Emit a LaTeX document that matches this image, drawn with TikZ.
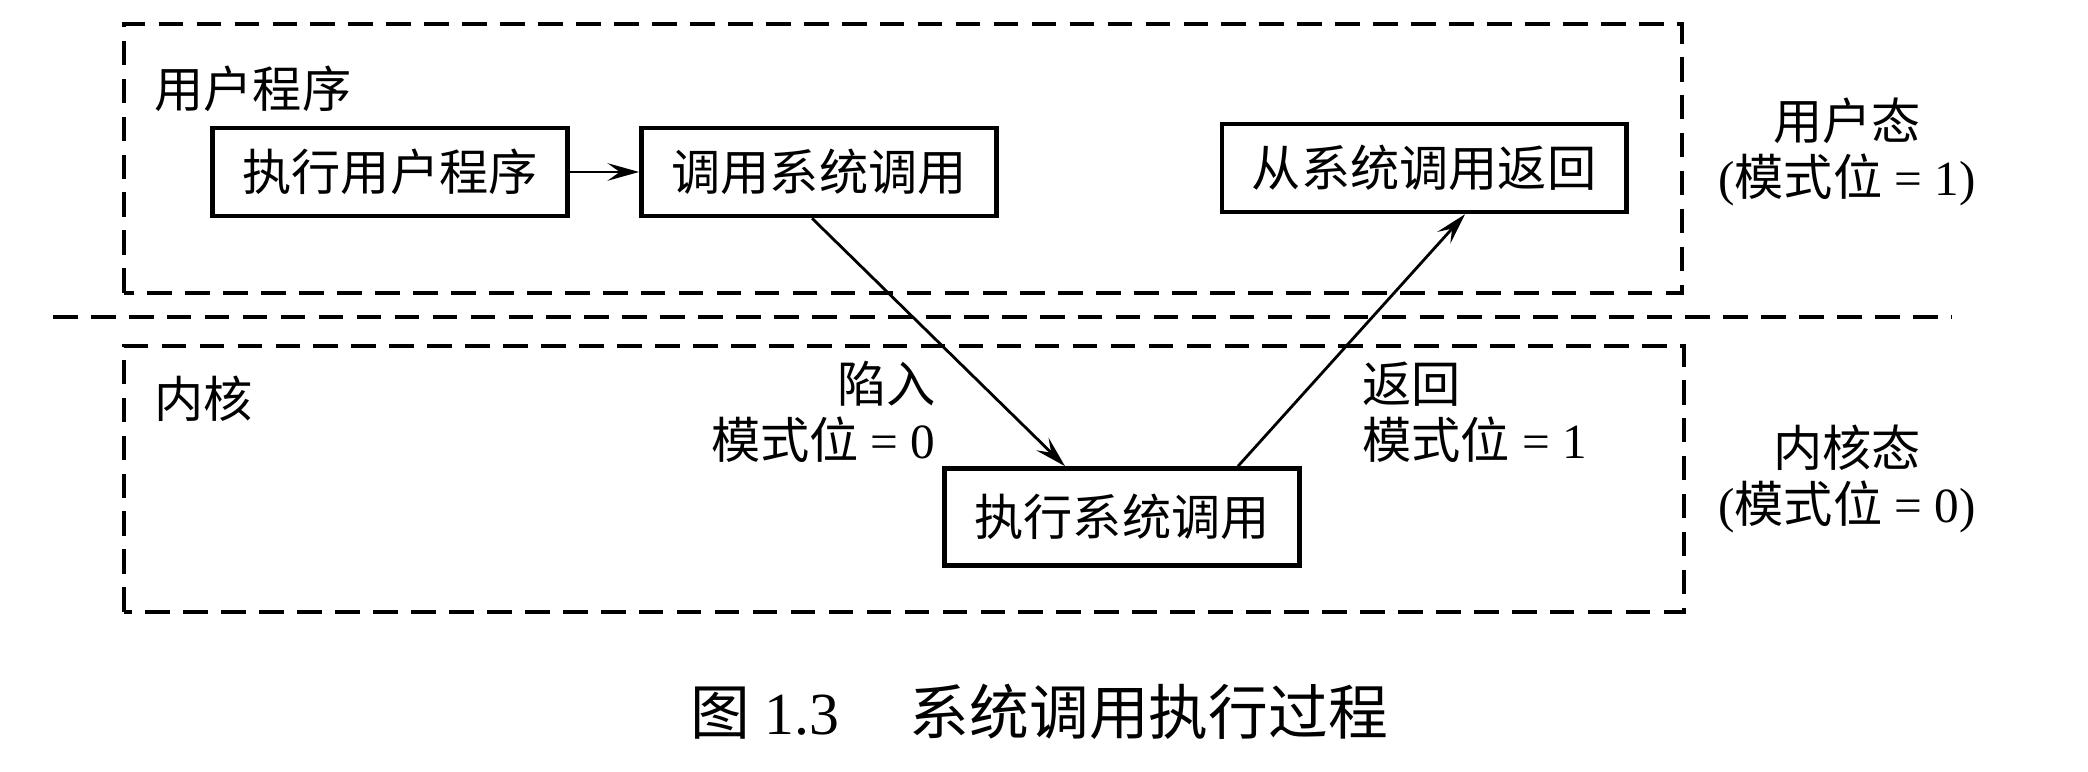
\documentclass[tikz,border=0pt]{standalone}
\usepackage{fontspec}
\setmainfont{Liberation Serif}
\newfontfamily\cjk{Noto Sans CJK SC}
\newcommand{\zh}[1]{{\cjk #1}}
\usetikzlibrary{arrows.meta,positioning}

\begin{document}
\begin{tikzpicture}[>={Stealth[length=9pt,width=5pt,inset=3.5pt]}, every node/.style={font=\fontsize{14pt}{16pt}\selectfont},
    procbox/.style={draw, line width=1.3pt, minimum height=0.88cm, inner xsep=0.3cm},
    region/.style={line width=1pt, dash pattern=on 7pt off 3.8pt}]

  \useasboundingbox (0,0) rectangle (20.88,7.72);

  % user mode
  \draw[region] (1.24,4.79) rectangle (16.82,7.48);
  \node[anchor=west] (userlbl) at (1.42,6.83) {\zh{用户程序}};
  \node[procbox, minimum width=3.53cm] (exec) at (3.90,6.0) {\zh{执行用户程序}};
  \node[procbox, minimum width=3.51cm] (call) at (8.19,6.0) {\zh{调用系统调用}};
  \node[procbox, minimum width=3.97cm] (ret) at (14.24,6.04) {\zh{从系统调用返回}};
  \node[align=center] (umode) at (18.47,6.2) {\zh{用户态}\\(\zh{模式位} = 1)};

  % separator
  \draw[region] (0.53,4.55) -- (19.51,4.55);

  % kernel mode
  \draw[region] (1.24,1.60) rectangle (16.84,4.26);
  \node[anchor=west] (kernlbl) at (1.42,3.73) {\zh{内核}};
  \node[procbox, minimum width=3.53cm, minimum height=0.97cm] (sys) at (11.22,2.55) {\zh{执行系统调用}};
  \node[align=center] (kmode) at (18.47,2.93) {\zh{内核态}\\(\zh{模式位} = 0)};

  \node[align=right, anchor=east] (trap) at (9.48,3.6) {\zh{陷入}\\\zh{模式位} = 0};
  \node[align=left, anchor=west] (back) at (13.50,3.6) {\zh{返回}\\\zh{模式位} = 1};

  % arrows
  \draw[->, line width=0.8pt] (exec) -- (call);
  \draw[->, line width=0.8pt] ([xshift=-0.07cm]call.south) -- ([xshift=-0.57cm]sys.north);
  \draw[->, line width=0.8pt] ([xshift=1.16cm]sys.north) -- ([xshift=0.41cm]ret.south);

  % caption
  \node (cap) at (10.39,0.60) {\fontsize{17pt}{20pt}\selectfont\zh{图} 1.3\hspace{20pt}\zh{系统调用执行过程}};
\end{tikzpicture}
\end{document}
